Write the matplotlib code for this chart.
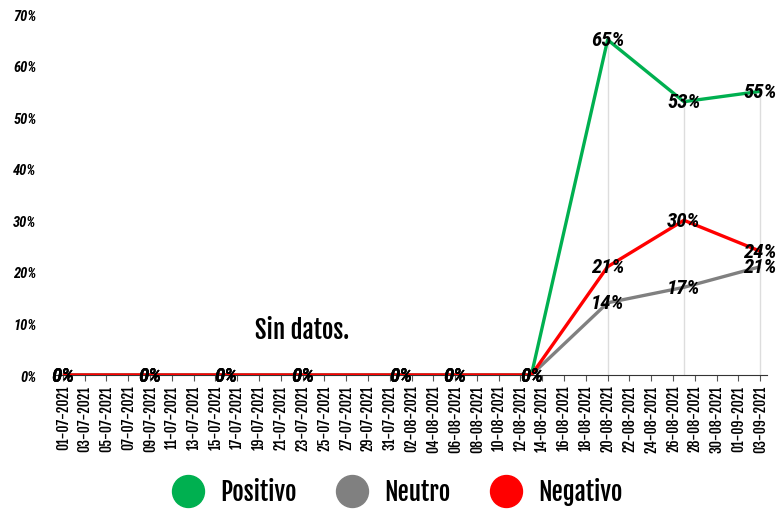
import matplotlib
matplotlib.use("Agg")
import matplotlib.pyplot as plt
from matplotlib.lines import Line2D
from matplotlib.ticker import PercentFormatter
import pandas as pd

fechas = ["2021-07-01", "2021-07-09", "2021-07-16", "2021-07-23", "2021-08-01",
          "2021-08-06", "2021-08-13", "2021-08-20", "2021-08-27", "2021-09-03"]
positivo = [0, 0, 0, 0, 0, 0, 0, 65, 53, 55]
neutro = [0, 0, 0, 0, 0, 0, 0, 14, 17, 21]
negativo = [0, 0, 0, 0, 0, 0, 0, 21, 30, 24]
series = ["Positivo", "Neutro", "Negativo"]
colores = ["#00b050", "#808080", "#ff0000"]

# fuente recta y fuente cursiva (condensadas)
fuente = ["Fjalla One", "DejaVu Sans"]
cursiva = ["Roboto Condensed", "DejaVu Sans"]
plt.rcParams["font.family"] = fuente

x = pd.to_datetime(fechas)
fig = plt.figure(figsize=(7.78, 5.10), dpi=100)
ax = fig.add_axes([56 / 778, 1 - 376 / 510, (767 - 56) / 778, (376 - 15) / 510])

# lineas verticales en los puntos con datos
for xi, a, b, c in zip(x, positivo, neutro, negativo):
    m = max(a, b, c)
    if m > 0:
        ax.vlines(xi, 0, m, color="#dddddd", lw=1, zorder=1)

for vals, col in zip([positivo, neutro, negativo], colores):
    ax.plot(x, vals, color=col, lw=2.4, zorder=3, solid_capstyle="butt")

# etiquetas de valores
for vals in [positivo, neutro, negativo]:
    for xi, v in zip(x, vals):
        ax.text(xi, v, f"{v}%", ha="center", va="center", fontsize=15,
                fontweight="bold", style="italic", family=cursiva, zorder=5)

ax.text(pd.Timestamp("2021-07-23"), 8.8, "Sin datos.", ha="center", va="center",
        fontsize=18)

ticks = pd.date_range("2021-07-01", "2021-09-03", freq="2D")
ax.set_xticks(ticks)
ax.set_xticklabels([t.strftime("%d-%m-%Y") for t in ticks], rotation=90,
                   fontsize=10)
ax.set_xlim(pd.Timestamp("2021-06-30 09:00"), pd.Timestamp("2021-09-03 15:00"))
ax.set_ylim(0, 70)
ax.set_yticks(range(0, 71, 10))
ax.yaxis.set_major_formatter(PercentFormatter(decimals=0))
for lab in ax.get_yticklabels():
    lab.set_family(cursiva)
    lab.set_fontweight("bold")
    lab.set_fontstyle("italic")
    lab.set_fontsize(10.5)
ax.tick_params(axis="y", length=0, pad=14)
ax.tick_params(axis="x", length=4, color="#555555", pad=3)
for s in ["top", "right", "left"]:
    ax.spines[s].set_visible(False)
ax.spines["bottom"].set_color("#333333")
ax.patch.set_alpha(0)

handles = [Line2D([], [], marker="o", linestyle="", markersize=23, color=c)
           for c in colores]
fig.legend(handles, series, loc="center", bbox_to_anchor=(0.505, 1 - 492 / 510),
           ncol=3, frameon=False, prop={"family": fuente, "size": 18},
           handletextpad=0.3, columnspacing=1.2)

fig.savefig("out.png", dpi=100)
